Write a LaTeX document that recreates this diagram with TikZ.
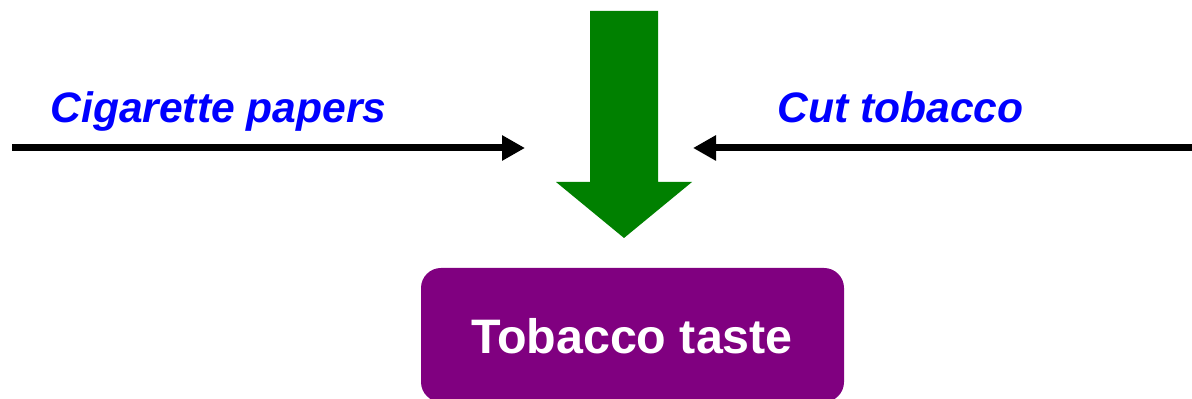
\documentclass[tikz,border=0pt]{standalone}
\usepackage{fontspec}
\setmainfont{Liberation Sans}
\usetikzlibrary{arrows.meta}
\definecolor{tgreen}{HTML}{008000}
\definecolor{tpurple}{HTML}{800080}
\tikzset{
  inlabel/.style={text=blue,font=\bfseries\itshape\fontsize{21.3}{25}\selectfont,inner sep=0pt},
  inarrow/.style={line width=3.5pt,-{Triangle[length=11.5pt,width=12pt]}},
  tastetext/.style={text=white,font=\bfseries\fontsize{24.2}{29}\selectfont,inner sep=0pt}
}
\begin{document}
\begin{tikzpicture}[x=.5pt,y=-.5pt]
      \useasboundingbox (0,0) rectangle (1192,399);

      %% big green arrow
      \fill[tgreen] (590,11) -- (658,11) -- (658,182) -- (692,182)
        -- (624,238) -- (556,182) -- (590,182) -- cycle;

      %% labels
      \node[inlabel,anchor=base west] (papers) at (50,123) {Cigarette papers};
      \node[inlabel,anchor=base west] (cut) at (777,123) {Cut tobacco};

      %% side arrows
      \coordinate (lstart) at (12,148);
      \coordinate (lend) at (525,148);
      \coordinate (rstart) at (1192,148);
      \coordinate (rend) at (693,148);
      \draw[inarrow] (lstart) -- (lend);
      \draw[inarrow] (rstart) -- (rend);

      %% result box
      \fill[tpurple,rounded corners=10pt] (421,268) rectangle (844,402);
      \node[tastetext,anchor=base] (taste) at (632,354) {Tobacco taste};
\end{tikzpicture}
\end{document}
